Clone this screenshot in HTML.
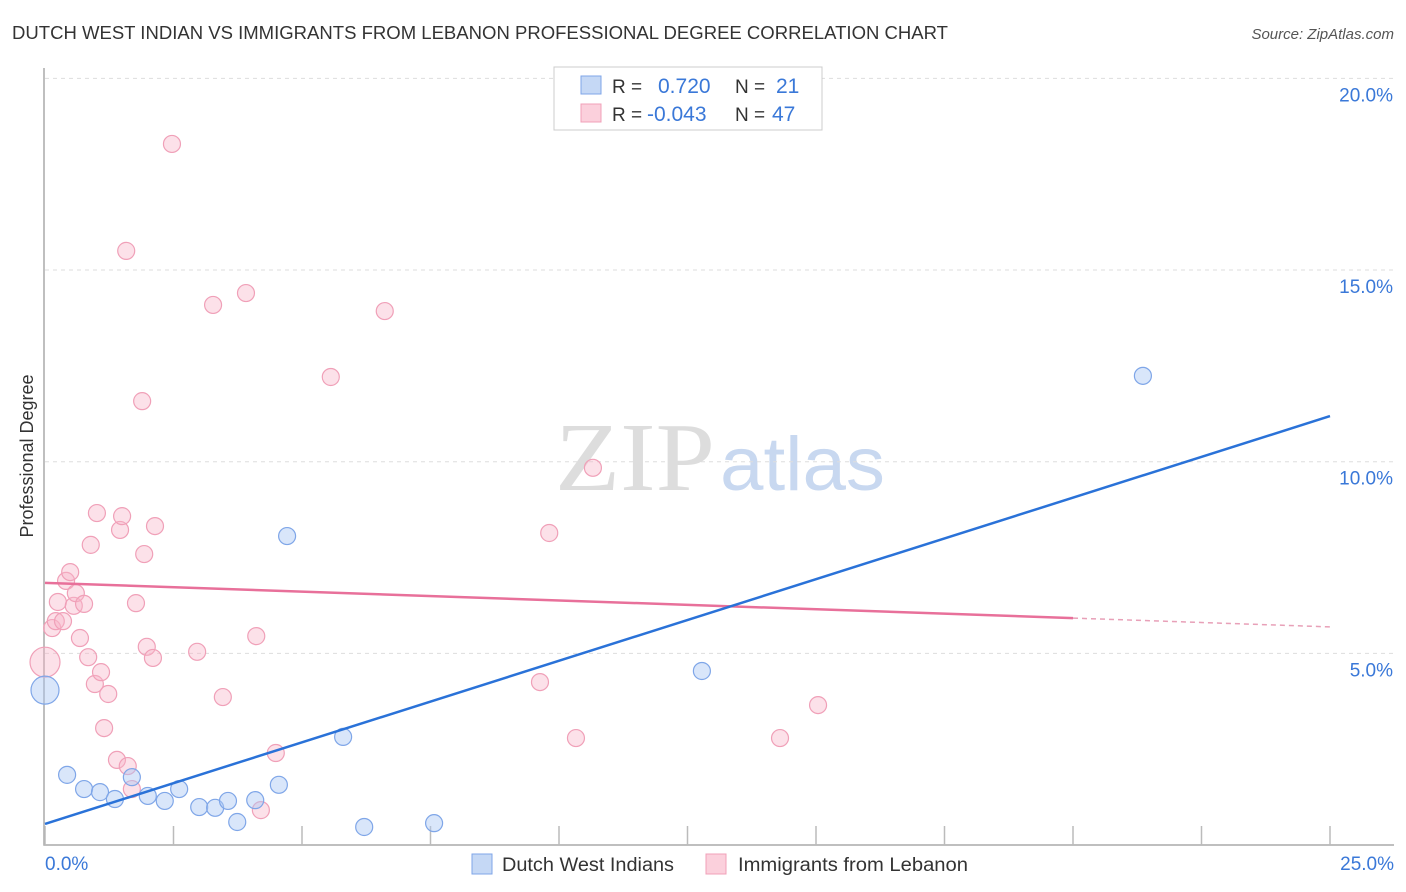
<!DOCTYPE html>
<html><head><meta charset="utf-8"><style>
body{margin:0;background:#fff;font-family:"Liberation Sans",sans-serif;}
svg{display:block}
</style></head><body>
<svg id="chart" width="1406" height="892" viewBox="0 0 1406 892" xmlns="http://www.w3.org/2000/svg">
<text x="12" y="39" font-size="18" fill="#333" textLength="936" lengthAdjust="spacingAndGlyphs">DUTCH WEST INDIAN VS IMMIGRANTS FROM LEBANON PROFESSIONAL DEGREE CORRELATION CHART</text>
<text x="1394" y="39" font-size="15" fill="#555" font-style="italic" text-anchor="end">Source: ZipAtlas.com</text>
<text x="33" y="456" font-size="18" fill="#333" text-anchor="middle" transform="rotate(-90 33 456)">Professional Degree</text>
<g>
<text x="555" y="490" font-size="98" fill="#ddd" font-family="Liberation Serif,serif" textLength="160" lengthAdjust="spacingAndGlyphs">ZIP</text>
<text x="720" y="490" font-size="76" fill="#c8d8f0" textLength="165" lengthAdjust="spacingAndGlyphs">atlas</text>
</g>
<g id="grid"></g>
<g id="axes"></g>
<g id="pts"></g>
<g id="lines"></g>
<g>
<rect x="554" y="67" width="268" height="63" fill="#fff" stroke="#ccc"/>
<rect x="581" y="76" width="20" height="18" fill="#c5d8f5" stroke="#7fa6e8"/>
<text x="612" y="93" font-size="19" fill="#333">R =</text>
<text x="658" y="93" font-size="21" fill="#3a78d8">0.720</text>
<text x="735" y="93" font-size="19" fill="#333">N =</text>
<text x="776" y="93" font-size="21" fill="#3a78d8">21</text>
<rect x="581" y="104" width="20" height="18" fill="#fbd0dc" stroke="#f0a0b8"/>
<text x="612" y="121" font-size="19" fill="#333">R =</text>
<text x="647" y="121" font-size="21" fill="#3a78d8">-0.043</text>
<text x="735" y="121" font-size="19" fill="#333">N =</text>
<text x="772" y="121" font-size="21" fill="#3a78d8">47</text>
</g>
<g>
<rect x="472" y="854" width="20" height="20" fill="#c5d8f5" stroke="#7fa6e8"/>
<text x="502" y="871" font-size="19" fill="#333" textLength="172" lengthAdjust="spacingAndGlyphs">Dutch West Indians</text>
<rect x="706" y="854" width="20" height="20" fill="#fbd0dc" stroke="#f0a0b8"/>
<text x="738" y="871" font-size="19" fill="#333" textLength="230" lengthAdjust="spacingAndGlyphs">Immigrants from Lebanon</text>
</g>
</svg>
<script>
const blueX=[0,0.43,0.76,1.07,1.36,1.69,2.00,2.33,2.61,3.00,3.31,3.56,3.74,4.09,4.55,4.71,5.80,6.21,7.57,12.78,21.36];
const blueY=[4.04,1.83,1.46,1.38,1.20,1.77,1.28,1.15,1.46,0.99,0.97,1.15,0.60,1.17,1.57,8.06,2.82,0.47,0.57,4.54,12.24];
const pinkX=[0,0.14,0.21,0.25,0.35,0.41,0.49,0.56,0.60,0.68,0.76,0.84,0.89,0.97,1.01,1.09,1.15,1.23,1.40,1.46,1.50,1.58,1.61,1.69,1.77,1.89,1.93,1.98,2.10,2.14,2.47,2.96,3.27,3.46,3.91,4.11,4.20,4.49,5.56,6.61,9.63,9.81,10.33,10.66,14.30,15.04];
const pinkY=[4.77,5.66,5.84,6.34,5.84,6.89,7.12,6.24,6.57,5.40,6.29,4.90,7.83,4.20,8.66,4.51,3.05,3.94,2.22,8.22,8.58,15.50,2.06,1.46,6.31,11.58,7.59,5.17,4.88,8.32,18.29,5.04,14.09,3.86,14.40,5.45,0.91,2.40,12.21,13.93,4.25,8.14,2.79,9.84,2.79,3.65];
const blueLine=[0.55,11.19];
const pinkLine=[6.84,5.69];
const pinkSolidEnd=20;
const yTicks=[5,10,15,20];
const yTickLabels=["5.0%","10.0%","15.0%","20.0%"];
const xTicks=[0,2.5,5,7.5,10,12.5,15,17.5,20,22.5,25];
const NS="http://www.w3.org/2000/svg";
const sx=v=>45+v*51.4, sy=v=>845-v*38.33;
function mk(tag,attrs,parent){const e=document.createElementNS(NS,tag);for(const k in attrs)e.setAttribute(k,attrs[k]);document.getElementById(parent).appendChild(e);return e;}
yTicks.forEach((t,i)=>{
 const g=mk('line',{x1:45,x2:1394,y1:sy(t),y2:sy(t),stroke:'#ddd','stroke-dasharray':'4,4'},'grid');
 
 
 const l=mk('text',{x:1393,y:sy(t)+23,'font-size':19,fill:'#3a78d8','text-anchor':'end'},'grid');
 l.textContent=yTickLabels[i];
 
 
});
const ax=mk('path',{d:'M44 68 V845 H1394',fill:'none',stroke:'#aaa','stroke-width':1.5},'axes');


xTicks.forEach(t=>{
 const k=mk('line',{x1:sx(t),x2:sx(t),y1:826,y2:845,stroke:'#bbb','stroke-width':1.5},'axes');
 
 
});
const x0=mk('text',{x:45,y:870,'font-size':19,fill:'#3a78d8'},'axes');x0.textContent='0.0%';


const x1=mk('text',{x:1394,y:870,'font-size':19,fill:'#3a78d8','text-anchor':'end'},'axes');x1.textContent='25.0%';


pinkX.forEach((x,i)=>{
 const c=mk('circle',{cx:sx(x),cy:sy(pinkY[i]),r:i===0?15:8.5,fill:'rgba(248,180,200,0.4)',stroke:'#f0a0b8','stroke-width':1.2},'pts');
 
 
});
blueX.forEach((x,i)=>{
 const c=mk('circle',{cx:sx(x),cy:sy(blueY[i]),r:i===0?14:8.5,fill:'rgba(170,200,245,0.45)',stroke:'#7fa6e8','stroke-width':1.2},'pts');
 
 
});
const pend=pinkLine[0]+(pinkLine[1]-pinkLine[0])*pinkSolidEnd/25;
const p1=mk('line',{x1:sx(0),y1:sy(pinkLine[0]),x2:sx(pinkSolidEnd),y2:sy(pend),stroke:'#e8709a','stroke-width':2.5},'lines');


const p2=mk('line',{x1:sx(pinkSolidEnd),y1:sy(pend),x2:sx(25),y2:sy(pinkLine[1]),stroke:'#e8a0b8','stroke-width':1.5,'stroke-dasharray':'5,4'},'lines');


const b=mk('line',{x1:sx(0),y1:sy(blueLine[0]),x2:sx(25),y2:sy(blueLine[1]),stroke:'#2a72d8','stroke-width':2.5},'lines');


</script>
</body></html>
